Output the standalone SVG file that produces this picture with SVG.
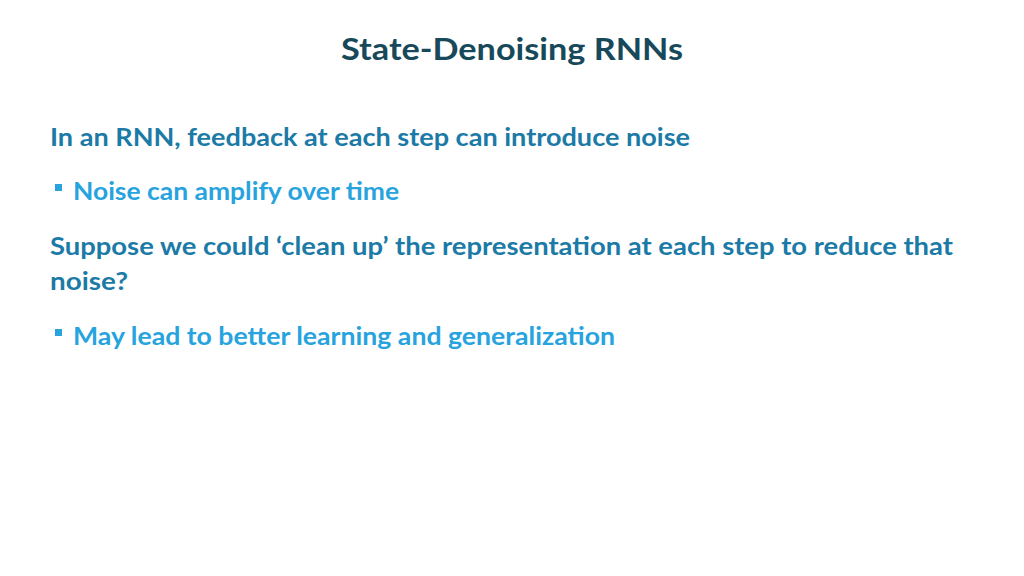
<svg xmlns="http://www.w3.org/2000/svg" width="1024" height="576" viewBox="0 0 1024 576">
<style>
text{font-family:Lato,"Open Sans","Liberation Sans",sans-serif;font-weight:bold;}
.t{fill:#17495a;font-size:30px}
.a{fill:#1b7aa6;font-size:24px}
.b{fill:#27a3de;font-size:24px}
.sq{fill:#27a3de}
</style>
<rect width="1024" height="576" fill="#fff"/>
<g id="title"><text class="t" x="341" y="60" textLength="342" lengthAdjust="spacingAndGlyphs">State-Denoising RNNs</text></g>
<g id="body">
<text class="a" x="50" y="146" textLength="640" lengthAdjust="spacingAndGlyphs">In an RNN, feedback at each step can introduce noise</text>
<rect class="sq" x="55" y="184" width="7" height="7"/>
<text class="b" x="73" y="200" textLength="326" lengthAdjust="spacingAndGlyphs">Noise can amplify over time</text>
<text class="a" x="50" y="255" textLength="903" lengthAdjust="spacingAndGlyphs">Suppose we could ‘clean up’ the representation at each step to reduce that</text>
<text class="a" x="50" y="290" textLength="78" lengthAdjust="spacingAndGlyphs">noise?</text>
<rect class="sq" x="55" y="329" width="7" height="7"/>
<text class="b" x="73" y="345" textLength="542" lengthAdjust="spacingAndGlyphs">May lead to better learning and generalization</text>
</g>
</svg>
